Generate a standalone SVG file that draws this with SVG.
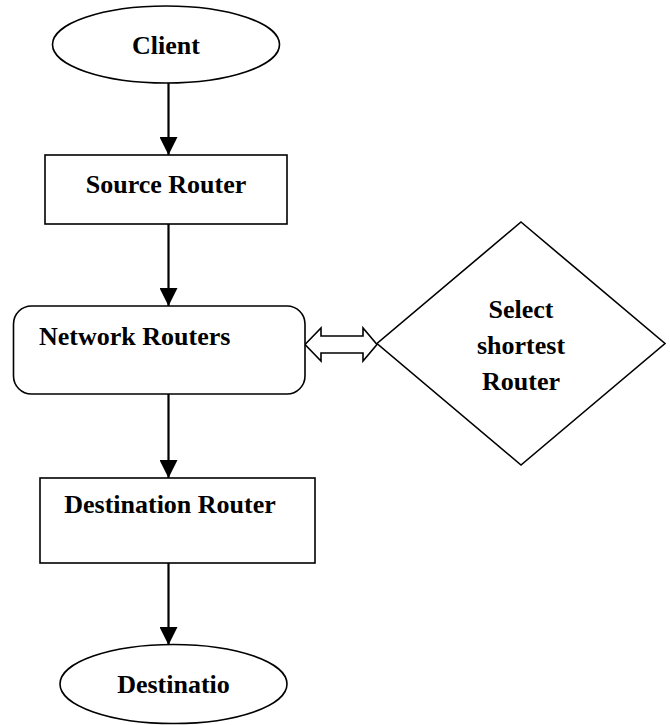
<svg xmlns="http://www.w3.org/2000/svg" width="670" height="725" viewBox="0 0 670 725">
<style>
.shape{fill:#fff;stroke:#000;stroke-width:1.6}
.lbl{font-family:"Liberation Serif","Times New Roman",serif;font-weight:bold;font-size:26px;fill:#000}
.conn{stroke:#000;stroke-width:2.2;fill:none}
</style>
<defs>
<marker id="ah" markerUnits="userSpaceOnUse" markerWidth="18" markerHeight="18" viewBox="0 0 16 16" refX="16" refY="8" orient="auto">
<path d="M0,0 L16,8 L0,16 Z" fill="#000"/>
</marker>
</defs>
<rect width="670" height="725" fill="#fff"/>
<g id="connectors">
<line class="conn" x1="168.5" y1="83" x2="168.5" y2="155" marker-end="url(#ah)"/>
<line class="conn" x1="168.5" y1="224" x2="168.5" y2="306" marker-end="url(#ah)"/>
<line class="conn" x1="168.5" y1="394" x2="168.5" y2="478" marker-end="url(#ah)"/>
<line class="conn" x1="168.5" y1="563" x2="168.5" y2="645" marker-end="url(#ah)"/>
<path id="double-arrow" class="shape" d="M305,344.5 L321,328 L321,336 L363,336 L363,328 L377,344.5 L363,361 L363,353 L321,353 L321,361 Z"/>
</g>
<g id="client">
<ellipse class="shape" cx="166" cy="44.5" rx="113.5" ry="38.5"/>
<text class="lbl" x="166" y="54" text-anchor="middle">Client</text>
</g>
<g id="source-router">
<rect class="shape" x="45" y="155" width="242" height="69"/>
<text class="lbl" x="166" y="193" text-anchor="middle">Source Router</text>
</g>
<g id="network-routers">
<rect class="shape" x="13.5" y="306" width="291.5" height="88" rx="18" ry="18"/>
<text class="lbl" x="39" y="345">Network Routers</text>
</g>
<g id="select-shortest">
<polygon class="shape" points="521,222 665,343.5 521,465 377,343.5"/>
<text class="lbl" x="521" y="318" text-anchor="middle">Select</text>
<text class="lbl" x="521" y="354" text-anchor="middle">shortest</text>
<text class="lbl" x="521" y="390" text-anchor="middle">Router</text>
</g>
<g id="destination-router">
<rect class="shape" x="40" y="478" width="275" height="85"/>
<text class="lbl" x="170" y="513" text-anchor="middle">Destination Router</text>
</g>
<g id="destination">
<ellipse class="shape" cx="173.5" cy="684" rx="113.5" ry="39.5"/>
<text class="lbl" x="173.5" y="693" text-anchor="middle">Destinatio</text>
</g>
</svg>
